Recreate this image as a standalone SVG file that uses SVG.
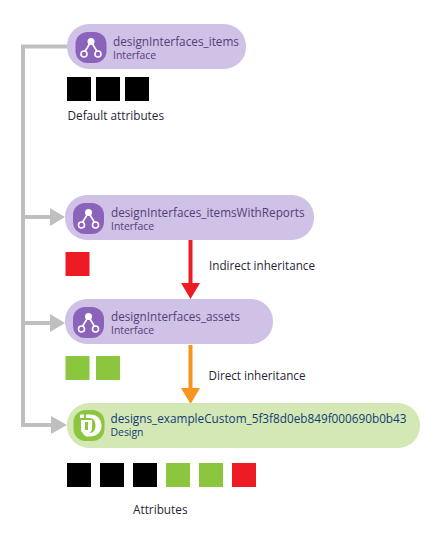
<svg xmlns="http://www.w3.org/2000/svg" width="440" height="543" viewBox="0 0 440 543">
<style>
text{font-family:"Open Sans","Noto Sans","Liberation Sans",sans-serif}
.t{font-size:12.300px;fill:#544078}
.s{font-size:10.300px;fill:#544078}
.dt{font-size:12.300px;fill:#123c74}
.ds{font-size:10.300px;fill:#123c74}
.l{font-size:12.200px;fill:#2a1f38}
.pi{fill:#d0c1e6}
.ii{fill:#8c63bb}
.g{fill:none;stroke:#bfbfbf;stroke-width:4}
.gh{fill:#bfbfbf}
.k{fill:#000}.gr{fill:#8cc63f}.r{fill:#ed1c24}
</style>
<defs>
<g id="ic">
<rect width="31" height="31" rx="12" class="ii"/>
<path d="M15.500 9.500L8.500 21M15.500 9.500L22.500 21" fill="none" stroke="#fff" stroke-width="1.600"/>
<circle cx="15.500" cy="9.500" r="3.500" fill="#fff"/>
<circle cx="8.500" cy="22" r="3" fill="#8c63bb" stroke="#fff" stroke-width="1.600"/>
<circle cx="22.500" cy="22" r="3" fill="#8c63bb" stroke="#fff" stroke-width="1.600"/>
</g>
</defs>
<g id="connectors">
<path class="g" d="M67 46.500H23V425H52M23 217H51M23 323H51"/>
<polygon class="gh" points="50,208 65,217 50,226"/>
<polygon class="gh" points="50,314 65,323 50,332"/>
<polygon class="gh" points="51,416 67,425 51,434"/>
<path d="M190.500 239V284" stroke="#ed1c24" stroke-width="4" fill="none"/>
<polygon class="r" points="181,283 200,283 190.500,299"/>
<path d="M190.500 345V389" stroke="#f7941d" stroke-width="4" fill="none"/>
<polygon fill="#f7941d" points="181,388 200,388 190.500,404"/>
</g>
<g id="node-items">
<rect class="pi" x="67" y="24" width="179" height="45" rx="22"/>
<use href="#ic" x="75.500" y="32"/>
<text class="t" x="113" y="45.500" textLength="126" lengthAdjust="spacingAndGlyphs">designInterfaces_items</text>
<text class="s" x="113" y="59" textLength="43" lengthAdjust="spacingAndGlyphs">Interface</text>
</g>
<g id="node-itemsWithReports">
<rect class="pi" x="65" y="195" width="249" height="45" rx="22"/>
<use href="#ic" x="73" y="203"/>
<text class="t" x="111" y="216.500" textLength="193.500" lengthAdjust="spacingAndGlyphs">designInterfaces_itemsWithReports</text>
<text class="s" x="111" y="230" textLength="43" lengthAdjust="spacingAndGlyphs">Interface</text>
</g>
<g id="node-assets">
<rect class="pi" x="65" y="299" width="208" height="45" rx="22"/>
<use href="#ic" x="73" y="307"/>
<text class="t" x="111" y="320.500" textLength="129" lengthAdjust="spacingAndGlyphs">designInterfaces_assets</text>
<text class="s" x="111" y="334" textLength="43" lengthAdjust="spacingAndGlyphs">Interface</text>
</g>
<g id="node-design">
<rect x="67" y="403" width="353" height="45" rx="22" fill="#d3e8b5"/>
<rect x="73.500" y="410" width="31" height="31" rx="12" class="gr"/>
<path fill="#fff" d="M86 414.500H90C97 414.500 101.500 419 101.500 425.500S97 436.500 90 436.500H86V433H89.500C93.500 433 95.500 430 95.500 425.500S93.500 418 89.500 418H86Z"/>
<rect x="80" y="414.500" width="4" height="3.500" fill="#fff"/>
<path fill="#fff" d="M81 420H92V430L87 436H85L81 431Z"/>
<path fill="#8cc63f" d="M85 422H88V430H85Z"/>
<text class="dt" x="110.500" y="422.500" textLength="296" lengthAdjust="spacingAndGlyphs">designs_exampleCustom_5f3f8d0eb849f000690b0b43</text>
<text class="ds" x="110.500" y="436" textLength="33" lengthAdjust="spacingAndGlyphs">Design</text>
</g>
<g id="attrs-default">
<rect class="k" x="67" y="77" width="24" height="24"/>
<rect class="k" x="96" y="77" width="24" height="24"/>
<rect class="k" x="125" y="77" width="24" height="24"/>
<text class="l" x="67.500" y="120" textLength="96.500" lengthAdjust="spacingAndGlyphs">Default attributes</text>
</g>
<g id="attrs-indirect">
<rect class="r" x="65.500" y="252" width="24" height="24"/>
<text class="l" x="209" y="270" textLength="106" lengthAdjust="spacingAndGlyphs">Indirect inheritance</text>
</g>
<g id="attrs-direct">
<rect class="gr" x="65.500" y="356" width="24" height="24"/>
<rect class="gr" x="96" y="356" width="24" height="24"/>
<text class="l" x="208.500" y="380" textLength="97" lengthAdjust="spacingAndGlyphs">Direct inheritance</text>
</g>
<g id="attrs-all">
<rect class="k" x="67" y="463" width="24" height="24"/>
<rect class="k" x="100" y="463" width="24" height="24"/>
<rect class="k" x="133" y="463" width="24" height="24"/>
<rect class="gr" x="166" y="463" width="24" height="24"/>
<rect class="gr" x="199" y="463" width="24" height="24"/>
<rect class="r" x="232" y="463" width="24" height="24"/>
<text class="l" x="133" y="514" textLength="54.500" lengthAdjust="spacingAndGlyphs">Attributes</text>
</g>
</svg>
